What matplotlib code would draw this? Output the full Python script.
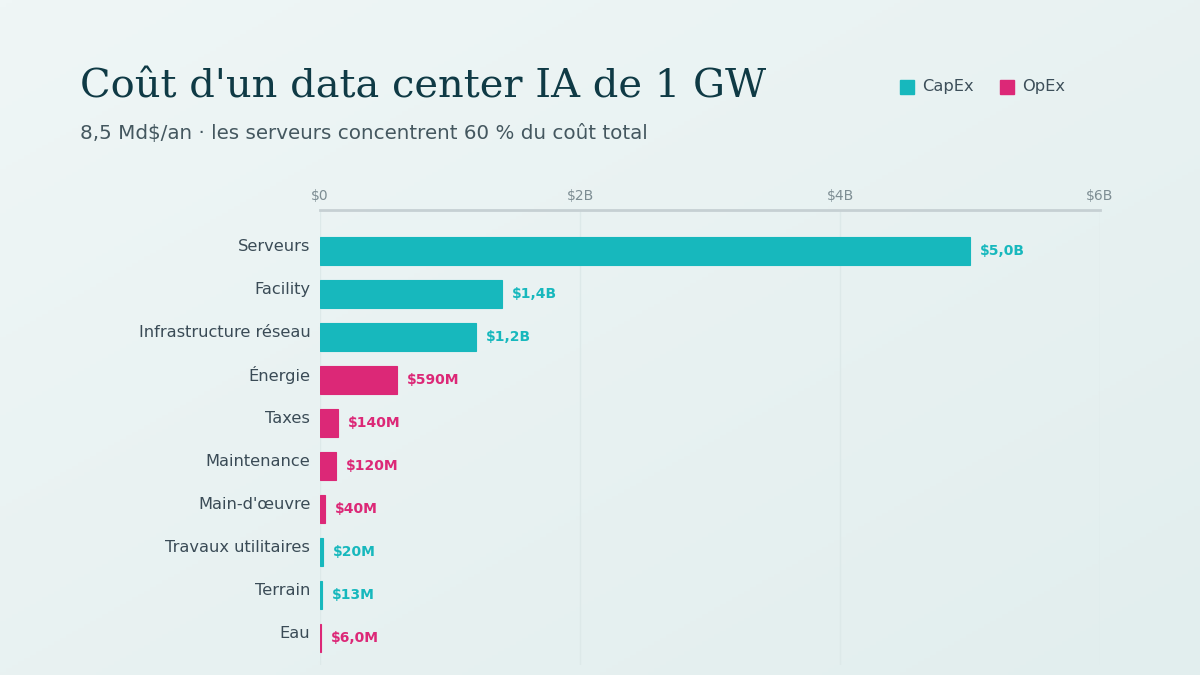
import numpy as np
import matplotlib.pyplot as plt
from matplotlib.transforms import ScaledTranslation
from matplotlib.patches import Rectangle
from matplotlib.colors import LinearSegmentedColormap

categories = ["Serveurs", "Facility", "Infrastructure réseau", "Énergie", "Taxes",
              "Maintenance", "Main-d'œuvre", "Travaux utilitaires", "Terrain", "Eau"]
values = [5.0e9, 1.4e9, 1.2e9, 590e6, 140e6, 120e6, 40e6, 20e6, 13e6, 6e6]
kinds = ["CapEx", "CapEx", "CapEx", "OpEx", "OpEx", "OpEx", "OpEx", "CapEx", "CapEx", "OpEx"]
xticks = [0, 2e9, 4e9, 6e9]
xticklabels = ["$0", "$2B", "$4B", "$6B"]

colors = {"CapEx": "#17b8bd", "OpEx": "#dc2877"}


def fmt(v):
    if v >= 1e9:
        return ("$%.1fB" % (v / 1e9)).replace(".", ",")
    m = v / 1e6
    if m >= 10:
        return "$%dM" % round(m)
    return ("$%.1fM" % m).replace(".", ",")


fig = plt.figure(figsize=(12, 6.75), dpi=100)

# fond en dégradé
bg = fig.add_axes([0, 0, 1, 1], zorder=-10)
gx, gy = np.meshgrid(np.linspace(0, 1, 200), np.linspace(0, 1, 200))
bg.imshow(0.5 * gx + 0.5 * gy, cmap=LinearSegmentedColormap.from_list("bg", ["#eff6f6", "#e2eeee"]),
          aspect="auto", extent=[0, 1, 0, 1], origin="upper")
bg.set_axis_off()

ax = fig.add_axes([320 / 1200, 1 - 665 / 675, 780 / 1200, 455 / 675])
ax.set_facecolor("none")

y = np.arange(len(categories))
bar_colors = [colors[k] for k in kinds]
ax.barh(y, values, height=0.66, color=bar_colors, edgecolor=bar_colors, linewidth=0.8, zorder=3)

ax.set_xlim(0, 6e9)
ax.set_ylim(9.63, -0.953)

# étiquettes de valeur
for yi, v, c in zip(y, values, bar_colors):
    tr = ax.transData + ScaledTranslation(10 / 100, 0, fig.dpi_scale_trans)
    ax.text(v, yi, fmt(v), transform=tr, ha="left", va="center",
            fontsize=10, fontweight="bold", color=c, zorder=4)

# catégories
ax.set_yticks(y)
ax.set_yticklabels(categories, fontsize=11.7, color="#3a4b56")
ax.tick_params(axis="y", length=0, pad=7)
for lab in ax.get_yticklabels():
    lab.set_transform(lab.get_transform() + ScaledTranslation(0, 6 / 100, fig.dpi_scale_trans))

ax.xaxis.tick_top()
ax.set_xticks(xticks)
ax.set_xticklabels(xticklabels, fontsize=10, color="#7d8d93")
ax.tick_params(axis="x", length=0, pad=5)

ax.grid(axis="x", color="#dde9e9", linewidth=1, zorder=0)
for s in ["right", "bottom", "left"]:
    ax.spines[s].set_visible(False)
ax.spines["top"].set_color("#c6d0d3")
ax.spines["top"].set_linewidth(2)

# titre et sous-titre
fig.text(80 / 1200, 1 - 87 / 675, "Coût d'un data center IA de 1 GW", family="DejaVu Serif",
         fontsize=28.8, color="#0f3a45", va="center", ha="left")
fig.text(80 / 1200, 1 - 133 / 675, "8,5 Md$/an · les serveurs concentrent 60 % du coût total",
         fontsize=14.3, color="#44575f", va="center", ha="left")

# légende
for lx, name in [(900, "CapEx"), (1000, "OpEx")]:
    fig.patches.append(Rectangle((lx / 1200, 1 - 94 / 675), 14 / 1200, 14 / 675,
                                 transform=fig.transFigure, color=colors[name]))
    fig.text((lx + 22) / 1200, 1 - 87 / 675, name, fontsize=11.7, color="#3d4f5a",
             va="center", ha="left")

fig.savefig("out.png", dpi=100)
